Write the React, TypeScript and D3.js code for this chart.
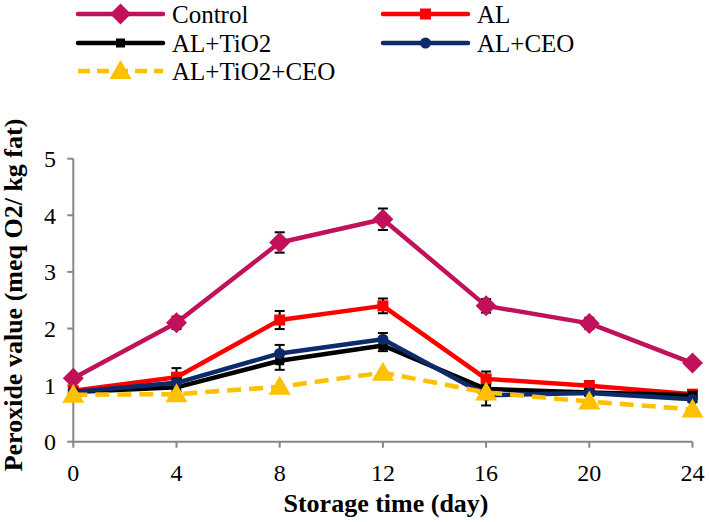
import React from "react";
import * as d3 from "d3";

const days = [0, 4, 8, 12, 16, 20, 24];
const yTicks = [0, 1, 2, 3, 4, 5];

const control = [1.12, 2.1, 3.52, 3.93, 2.4, 2.09, 1.39];
const controlErr = [0.04, 0.11, 0.18, 0.19, 0.12, 0.1, 0.04];
const al = [0.9, 1.14, 2.15, 2.4, 1.11, 0.99, 0.84];
const alErr = [0.03, 0.16, 0.16, 0.13, 0.13, 0.08, 0.04];
const alTiO2 = [0.88, 0.96, 1.43, 1.7, 0.93, 0.87, 0.82];
const alTiO2Err = [0.03, 0.06, 0.16, 0.1, 0.05, 0.05, 0.06];
const alCeo = [0.88, 1.04, 1.56, 1.81, 0.82, 0.86, 0.75];
const alCeoErr = [0.03, 0.08, 0.15, 0.11, 0.18, 0.05, 0.05];
const alTiO2Ceo = [0.83, 0.84, 0.97, 1.22, 0.87, 0.71, 0.57];

type Series = {
  name: string;
  values: number[];
  err: number[] | null;
  color: string;
  marker: string;
  dashed: boolean;
};

const series: Series[] = [
  { name: "Control", values: control, err: controlErr, color: "#C0115A", marker: "diamond", dashed: false },
  { name: "AL", values: al, err: alErr, color: "#FF0000", marker: "square", dashed: false },
  { name: "AL+TiO2", values: alTiO2, err: alTiO2Err, color: "#000000", marker: "smallsquare", dashed: false },
  { name: "AL+CEO", values: alCeo, err: alCeoErr, color: "#0D2A6B", marker: "circle", dashed: false },
  { name: "AL+TiO2+CEO", values: alTiO2Ceo, err: null, color: "#FFC000", marker: "triangle", dashed: true },
];

const legendPos = [
  { x: 78, y: 14 },
  { x: 383, y: 14 },
  { x: 78, y: 43 },
  { x: 383, y: 43 },
  { x: 78, y: 71 },
];

function Marker({ type, x, y, color }: { type: string; x: number; y: number; color: string }) {
  if (type === "diamond") {
    const s = 10.5;
    return <path d={`M${x},${y - s}L${x + s},${y}L${x},${y + s}L${x - s},${y}Z`} fill={color} />;
  }
  if (type === "square") return <rect x={x - 5.5} y={y - 5.5} width={11} height={11} fill={color} />;
  if (type === "smallsquare") return <rect x={x - 4.5} y={y - 4.5} width={9} height={9} fill={color} />;
  if (type === "circle") return <circle cx={x} cy={y} r={5.5} fill={color} />;
  const w = 11;
  return <path d={`M${x},${y - 11}L${x + w},${y + 8}L${x - w},${y + 8}Z`} fill={color} />;
}

const font = "Liberation Serif, Times New Roman, DejaVu Serif, serif";

export default function App() {
  const width = 709;
  const height = 522;
  const x = d3.scaleLinear().domain([0, 24]).range([73.3, 692.5]);
  const y = d3.scaleLinear().domain([0, 5]).range([441.7, 158.7]);
  const line = d3
    .line<number>()
    .x((_, i) => x(days[i]))
    .y((d) => y(d));
  const axisColor = "#868686";
  const ts = { fontFamily: font };

  return (
    <svg
      width={width}
      height={height}
      style={{ position: "absolute", left: 0, top: 0, background: "#fff", fontFamily: font }}
    >
      {/* axes */}
      <line x1={x(0)} x2={x(0)} y1={y(0)} y2={y(5)} stroke={axisColor} strokeWidth={2} />
      <line x1={x(0)} x2={x(24)} y1={y(0)} y2={y(0)} stroke={axisColor} strokeWidth={2} />
      {yTicks.map((t) => (
        <g key={"y" + t}>
          <line x1={x(0) - 6} x2={x(0)} y1={y(t)} y2={y(t)} stroke={axisColor} strokeWidth={2} />
          <text x={56} y={y(t)} dy="0.35em" textAnchor="end" fontSize={24} fill="#000" style={ts}>
            {t}
          </text>
        </g>
      ))}
      {days.map((d) => (
        <g key={"x" + d}>
          <line x1={x(d)} x2={x(d)} y1={y(0)} y2={y(0) + 6} stroke={axisColor} strokeWidth={2} />
          <text x={x(d)} y={481} textAnchor="middle" fontSize={24} fill="#000" style={ts}>
            {d}
          </text>
        </g>
      ))}
      <text x={386} y={512} textAnchor="middle" fontSize={26} fontWeight="bold" fill="#000" style={ts}>
        Storage time (day)
      </text>
      <text
        transform={`translate(22,295) rotate(-90)`}
        textAnchor="middle"
        fontSize={26}
        fontWeight="bold"
        fill="#000"
        style={ts}
      >
        Peroxide value (meq O2/ kg fat)
      </text>

      {/* series */}
      {series.map((s) => (
        <g key={s.name}>
          <path
            d={line(s.values) || ""}
            fill="none"
            stroke={s.color}
            strokeWidth={4.5}
            strokeDasharray={s.dashed ? "14,8" : undefined}
            strokeLinejoin="round"
          />
          {s.err &&
            s.values.map((v, i) => {
              const e = s.err![i];
              const cx = x(days[i]);
              return (
                <g key={i} stroke="#000" strokeWidth={2}>
                  <line x1={cx} x2={cx} y1={y(v - e)} y2={y(v + e)} />
                  <line x1={cx - 5} x2={cx + 5} y1={y(v - e)} y2={y(v - e)} />
                  <line x1={cx - 5} x2={cx + 5} y1={y(v + e)} y2={y(v + e)} />
                </g>
              );
            })}
          {s.values.map((v, i) => (
            <Marker key={i} type={s.marker} x={x(days[i])} y={y(v)} color={s.color} />
          ))}
        </g>
      ))}

      {/* legend */}
      {series.map((s, i) => {
        const p = legendPos[i];
        return (
          <g key={"lg" + s.name}>
            <line
              x1={p.x}
              x2={p.x + 85}
              y1={p.y}
              y2={p.y}
              stroke={s.color}
              strokeWidth={4.5}
              strokeLinecap={s.dashed ? "butt" : "round"}
              strokeDasharray={s.dashed ? "12,7" : undefined}
            />
            <Marker type={s.marker} x={p.x + 42.5} y={p.y} color={s.color} />
            <text x={p.x + 94} y={p.y} dy="0.35em" fontSize={25} fill="#000" style={ts}>
              {s.name}
            </text>
          </g>
        );
      })}
    </svg>
  );
}
